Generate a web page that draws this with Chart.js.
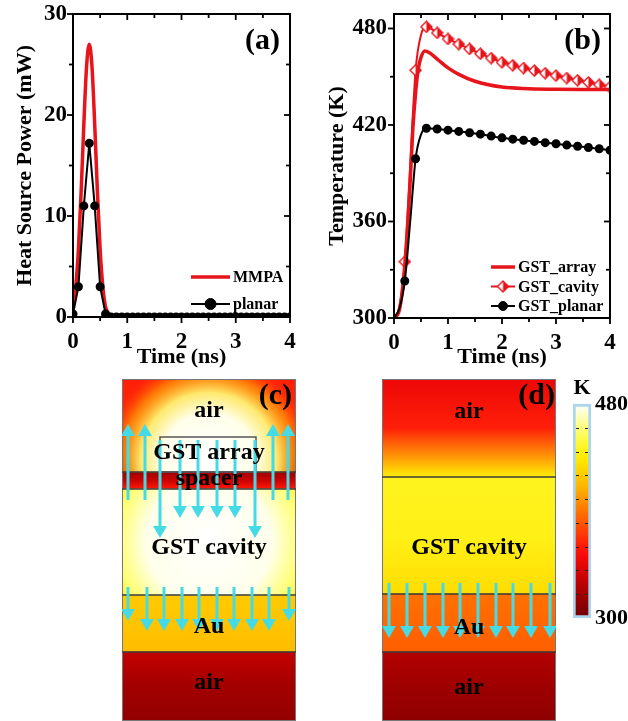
<!DOCTYPE html>
<html>
<head>
<meta charset="utf-8">
<script src="https://cdn.jsdelivr.net/npm/chart.js@4.4.1/dist/chart.umd.min.js"></script>
<style>
html, body { margin: 0; padding: 0; background: #fff; width: 628px; height: 721px; overflow: hidden; }
.box { position: absolute; }
</style>
</head>
<body>
<div class="box" style="left:0;top:0;width:314px;height:372px"><canvas id="chartA"></canvas></div>
<div class="box" style="left:314px;top:0;width:314px;height:372px"><canvas id="chartB"></canvas></div>
<div class="box" style="left:122px;top:379px;width:174px;height:342px"><canvas id="mapC"></canvas></div>
<div class="box" style="left:382px;top:379px;width:174px;height:342px"><canvas id="mapD"></canvas></div>
<div class="box" style="left:560px;top:380px;width:68px;height:250px"><canvas id="cbar"></canvas></div>
<script>
// (a) heat source power, mW
var tA = [0, 0.05, 0.1, 0.15, 0.2, 0.25, 0.3, 0.35, 0.4, 0.45, 0.5, 0.55, 0.6, 0.65, 0.7, 0.75, 0.8, 4];
var mmpaPower = [1.0, 3.0, 6.7, 12.4, 19.1, 24.8, 27.0, 24.8, 19.1, 12.4, 6.7, 3.0, 1.0, 0.4, 0.1, 0, 0, 0];
var tPlanarA = [0, 0.1, 0.2, 0.3, 0.4, 0.5, 0.6, 0.7, 0.8, 0.9, 1.0, 1.1, 1.2, 1.3, 1.4, 1.5, 1.6, 1.7, 1.8, 1.9, 2.0,
                2.1, 2.2, 2.3, 2.4, 2.5, 2.6, 2.7, 2.8, 2.9, 3.0, 3.1, 3.2, 3.3, 3.4, 3.5, 3.6, 3.7, 3.8, 3.9, 4.0];
var planarPower = [0.3, 3.0, 11.0, 17.2, 11.0, 3.0, 0.3, 0, 0, 0, 0, 0, 0, 0, 0, 0, 0, 0, 0, 0, 0,
                   0, 0, 0, 0, 0, 0, 0, 0, 0, 0, 0, 0, 0, 0, 0, 0, 0, 0, 0, 0];
var xTicks = [0, 1, 2, 3, 4];
var xMinor = [0.5, 1.5, 2.5, 3.5];
var yTicksA = [0, 10, 20, 30];
var yMinorA = [5, 15, 25];

// (b) temperature, K
var tArray = [0, 0.1, 0.2, 0.3, 0.35, 0.4, 0.45, 0.5, 0.57, 0.65, 0.8, 1.0, 1.2, 1.5, 2.0, 2.5, 3.0, 3.5, 4.0];
var arrayK = [300, 305, 333, 385, 418, 440, 455, 462, 466, 465, 461, 455.5, 451.5, 447.2, 443.6, 442.6, 442.2, 442.1, 442.1];
var tCavity = [0, 0.1, 0.2, 0.3, 0.4, 0.5, 0.6, 0.8, 1.0, 1.2, 1.4, 1.6, 1.8, 2.0, 2.2, 2.4, 2.6, 2.8, 3.0, 3.2, 3.4, 3.6, 3.8, 4.0];
var cavityK = [300, 307, 335, 395, 454, 476, 481, 477.3, 473.5, 470.3, 467.3, 464.3, 461.6, 459, 457.1, 455.4,
               453.8, 452.2, 450.7, 449.2, 447.8, 446.5, 445, 443.6];
var tPlanarB = [0, 0.1, 0.2, 0.3, 0.4, 0.5, 0.6, 0.8, 1.0, 1.2, 1.4, 1.6, 1.8, 2.0, 2.2, 2.4, 2.6, 2.8, 3.0, 3.2, 3.4, 3.6, 3.8, 4.0];
var planarK = [300, 306, 323, 360, 399, 414, 418, 417.5, 416.8, 416, 415.2, 414.3, 413.1, 412, 411.2, 410.5,
               409.8, 409, 408.3, 407.5, 406.8, 406, 405.2, 404.3];
var yTicksB = [300, 360, 420, 480];
var yMinorB = [330, 390, 450];

// (c) temperature field, layers bottom to top (K at bottom / middle / top of each layer)
var cLayers = ['air', 'Au', 'GST cavity', 'spacer', 'air'];
var cBounds = [0, 69, 126, 232, 249, 342];
var cTemp = [[314, 320, 332], [414, 417, 420], [446, 456, 448], [360, 335, 318], [335, 365, 362]];
var cGlowLayer = [4, 2];
var cGlowX = [0, 0];
var cGlowY = [260, 180];
var cGlowR = [105, 140];
var cGlowT = [480, 480];
var cArrayBox = [[-49, 249], [-49, 284], [47, 284], [47, 249]];
var cArrowX = [-81, -64, 64, 79, -49, -29, -11, 8, 26, 46, -81, -62, -45, -27, -10, 8, 25, 43, 60, 80];
var cArrowTail = [221, 221, 221, 221, 281, 281, 281, 281, 281, 281, 134, 134, 134, 134, 134, 134, 134, 134, 134, 134];
var cArrowHead = [289, 289, 289, 289, 191, 211, 211, 211, 211, 191, 108, 98, 98, 98, 98, 98, 98, 98, 98, 108];
var cLabels = ['air', 'GST array', 'spacer', 'GST cavity', 'Au', 'air'];
var cLabelY = [310, 268, 242, 173, 94, 38];

// (d) temperature field
var dLayers = ['air', 'Au', 'GST cavity', 'air'];
var dBounds = [0, 69, 127, 244, 342];
var dTemp = [[312, 318, 326], [383, 386, 389], [428, 440, 442], [436, 362, 348]];
var dArrowX = [-80, -62, -44, -26, -9, 9, 27, 44, 62, 81];
var dArrowTail = [138, 138, 138, 138, 138, 138, 138, 138, 138, 138];
var dArrowHead = [91, 91, 91, 91, 91, 91, 91, 91, 91, 91];
var dLabels = ['air', 'GST cavity', 'Au', 'air'];
var dLabelY = [309, 173, 93, 33];

// colour bar
var cbarRange = [300, 480];
var cbarMinor = [320, 340, 360, 380, 400, 420, 440, 460];

var heatStops = [[300, [110, 0, 0]], [330, [190, 0, 0]], [355, [255, 10, 10]], [385, [255, 100, 0]],
                 [410, [255, 180, 0]], [435, [255, 236, 0]], [455, [255, 255, 90]], [480, [255, 255, 255]]];

function heatColor(T, alpha) {
  if (alpha === undefined) alpha = 1;
  var c = heatStops[heatStops.length - 1][1];
  if (T <= heatStops[0][0]) c = heatStops[0][1];
  for (var i = 0; i < heatStops.length - 1; i++) {
    var a = heatStops[i], b = heatStops[i + 1];
    if (T >= a[0] && T <= b[0]) {
      var f = (T - a[0]) / (b[0] - a[0]);
      c = [0, 1, 2].map(function(k) { return Math.round(a[1][k] + f * (b[1][k] - a[1][k])); });
      break;
    }
  }
  return 'rgba(' + c[0] + ',' + c[1] + ',' + c[2] + ',' + alpha + ')';
}

Chart.defaults.font.family = "'Liberation Serif','Times New Roman',serif";
Chart.defaults.font.weight = 'bold';
Chart.defaults.color = '#000';
Chart.defaults.animation = false;

function pts(xs, ys) {
  return xs.map(function(x, i) { return { x: x, y: ys[i] }; });
}

// half-filled diamond marker for GST_cavity
var diamond = document.createElement('canvas');
diamond.width = 13; diamond.height = 13;
(function() {
  var g = diamond.getContext('2d');
  g.beginPath(); g.moveTo(6.5, 1); g.lineTo(12, 6.5); g.lineTo(6.5, 12); g.lineTo(1, 6.5); g.closePath();
  g.fillStyle = '#fff'; g.fill();
  g.beginPath(); g.moveTo(6.5, 1); g.lineTo(12, 6.5); g.lineTo(6.5, 12); g.closePath();
  g.fillStyle = '#e8141b'; g.fill();
  g.beginPath(); g.moveTo(6.5, 1); g.lineTo(12, 6.5); g.lineTo(6.5, 12); g.lineTo(1, 6.5); g.closePath();
  g.strokeStyle = '#e8141b'; g.lineWidth = 1.4; g.stroke();
})();

var decorPlugin = {
  id: 'decor',
  afterDatasetsDraw: function(chart, args, o) {
    var ctx = chart.ctx, a = chart.chartArea;
    ctx.save();
    function seg(x1, y1, x2, y2) { ctx.beginPath(); ctx.moveTo(x1, y1); ctx.lineTo(x2, y2); ctx.stroke(); }
    if (o.frame) {
      var xs = chart.scales.x, ys = chart.scales.y, f = o.frame;
      ctx.strokeStyle = '#000';
      ctx.lineWidth = 2;
      ctx.strokeRect(a.left, a.top, a.right - a.left, a.bottom - a.top);
      ctx.lineWidth = 1.8;
      [[f.xMajor, 6], [f.xMinor, 4]].forEach(function(p) {
        p[0].forEach(function(v) {
          var px = xs.getPixelForValue(v);
          seg(px, a.bottom, px, a.bottom + p[1]);
          seg(px, a.top, px, a.top + p[1]);
        });
      });
      [[f.yMajor, 6], [f.yMinor, 4]].forEach(function(p) {
        p[0].forEach(function(v) {
          var py = ys.getPixelForValue(v);
          seg(a.left - p[1], py, a.left, py);
          seg(a.right - p[1], py, a.right, py);
        });
      });
    }
    if (o.legend) {
      var L = o.legend;
      ctx.font = 'bold 16px "Liberation Serif"';
      ctx.textBaseline = 'middle';
      ctx.textAlign = 'left';
      chart.data.datasets.forEach(function(ds, i) {
        var y = L.y + i * L.dy;
        ctx.strokeStyle = ds.borderColor;
        ctx.lineWidth = ds.borderWidth;
        seg(L.x, y, L.x + L.len, y);
        if (ds.legendRadius) {
          ctx.fillStyle = ds.pointBackgroundColor;
          ctx.strokeStyle = ds.pointBorderColor;
          ctx.lineWidth = 1;
          Chart.helpers.drawPoint(ctx, { pointStyle: ds.pointStyle, radius: ds.legendRadius, rotation: 0, borderWidth: 1 },
            L.x + L.len / 2, y);
        }
        ctx.fillStyle = '#000';
        ctx.fillText(ds.label, L.x + L.len + 3, y + 1);
      });
    }
    if (o.labels) {
      var xa = chart.scales.xa, yy = chart.scales.y;
      ctx.font = 'bold 24px "Liberation Serif"';
      ctx.fillStyle = '#000';
      ctx.textAlign = 'center';
      ctx.textBaseline = 'middle';
      o.labels.text.forEach(function(t, i) {
        ctx.fillText(t, xa.getPixelForValue(0), yy.getPixelForValue(o.labels.y[i]));
      });
    }
    if (o.tag) {
      ctx.font = 'bold ' + (o.tag.size || 30) + 'px "Liberation Serif"';
      ctx.fillStyle = '#000';
      ctx.textAlign = o.tag.align || 'right';
      ctx.textBaseline = 'middle';
      ctx.fillText(o.tag.text, a.right + o.tag.dx, a.top + o.tag.dy);
    }
    if (o.cbar) {
      var yc = chart.scales.y;
      ctx.strokeStyle = '#222';
      ctx.lineWidth = 1;
      o.cbar.forEach(function(v) {
        var py = Math.round(yc.getPixelForValue(v)) + 0.5;
        seg(a.left + 3, py, a.left + 6, py);
        seg(a.right - 6, py, a.right - 3, py);
      });
    }
    ctx.restore();
  }
};

function lineScales(yMin, yMax, yTicks, yWidth, xHeight, yPad, titleY, titlePad) {
  return {
    x: {
      type: 'linear', min: 0, max: 4,
      afterBuildTicks: function(s) { s.ticks = xTicks.map(function(v) { return { value: v }; }); },
      afterFit: function(s) { s.height = xHeight; s.paddingLeft = 0; s.paddingRight = 0; },
      grid: { display: false, drawTicks: false }, border: { display: false },
      ticks: { font: { size: 23, weight: 'bold' }, padding: 11, maxRotation: 0 },
      title: { display: true, text: 'Time (ns)', font: { size: 22, weight: 'bold' }, padding: { top: 0, bottom: 1 } }
    },
    y: {
      type: 'linear', min: yMin, max: yMax,
      afterBuildTicks: function(s) { s.ticks = yTicks.map(function(v) { return { value: v }; }); },
      afterFit: function(s) { s.width = yWidth; s.paddingTop = 0; s.paddingBottom = 0; },
      grid: { display: false, drawTicks: false }, border: { display: false },
      ticks: { font: { size: 23, weight: 'bold' }, padding: yPad },
      title: { display: true, text: titleY, font: { size: 22, weight: 'bold' }, padding: { top: titlePad, bottom: 0 } }
    }
  };
}

new Chart(document.getElementById('chartA'), {
  type: 'line',
  data: {
    datasets: [
      { label: 'MMPA', data: pts(tA, mmpaPower), borderColor: '#e8141b', borderWidth: 3.5, pointRadius: 0,
        cubicInterpolationMode: 'monotone', order: 1 },
      { label: 'planar', data: pts(tPlanarA, planarPower), borderColor: '#000', borderWidth: 2,
        pointRadius: 3.5, pointStyle: 'circle', pointBackgroundColor: '#000', pointBorderColor: '#000',
        legendRadius: 5.5, order: 0 }
    ]
  },
  options: {
    responsive: true, maintainAspectRatio: false,
    layout: { autoPadding: false, padding: { top: 14, right: 24, left: 0, bottom: 0 } },
    scales: lineScales(0, 30, yTicksA, 73, 55, 6, 'Heat Source Power (mW)', 12),
    plugins: {
      legend: { display: false }, tooltip: { enabled: false },
      decor: {
        frame: { xMajor: xTicks, xMinor: xMinor, yMajor: yTicksA, yMinor: yMinorA },
        legend: { x: 191, len: 39, y: 277, dy: 27 },
        tag: { text: '(a)', dx: -10, dy: 27 }
      }
    }
  },
  plugins: [decorPlugin]
});

function markEvery(t) { return Math.abs(t * 5 - Math.round(t * 5)) < 1e-6 && t > 0; }

new Chart(document.getElementById('chartB'), {
  type: 'line',
  data: {
    datasets: [
      { label: 'GST_array', data: pts(tArray, arrayK), borderColor: '#e8141b', borderWidth: 3.5, pointRadius: 0,
        cubicInterpolationMode: 'monotone', order: 1 },
      { label: 'GST_cavity', data: pts(tCavity, cavityK), borderColor: '#e8141b', borderWidth: 2,
        pointStyle: diamond, pointBackgroundColor: '#fff', pointBorderColor: '#e8141b',
        pointRadius: tCavity.map(function(t) { return markEvery(t) ? 6 : 0; }),
        cubicInterpolationMode: 'monotone', legendRadius: 6, order: 2 },
      { label: 'GST_planar', data: pts(tPlanarB, planarK), borderColor: '#000', borderWidth: 2,
        pointStyle: 'circle', pointBackgroundColor: '#000', pointBorderColor: '#000',
        pointRadius: tPlanarB.map(function(t) { return markEvery(t) ? 3.5 : 0; }),
        cubicInterpolationMode: 'monotone', legendRadius: 4.5, order: 0 }
    ]
  },
  options: {
    responsive: true, maintainAspectRatio: false,
    layout: { autoPadding: false, padding: { top: 14, right: 18, left: 0, bottom: 0 } },
    scales: lineScales(300, 489, yTicksB, 80, 54, 7, 'Temperature (K)', 10),
    plugins: {
      legend: { display: false }, tooltip: { enabled: false },
      decor: {
        frame: { xMajor: xTicks, xMinor: xMinor, yMajor: yTicksB, yMinor: yMinorB },
        legend: { x: 177, len: 24, y: 267, dy: 19.5 },
        tag: { text: '(b)', dx: -9, dy: 27 }
      }
    }
  },
  plugins: [decorPlugin]
});

function layerFill(bounds, temps, i) {
  return function(c) {
    var chart = c.chart, y = chart.scales.y;
    if (!chart.chartArea || !y) return 'transparent';
    var yb = y.getPixelForValue(bounds[i]), yt = y.getPixelForValue(bounds[i + 1]);
    var g = chart.ctx.createLinearGradient(0, yb, 0, yt);
    g.addColorStop(0, heatColor(temps[i][0]));
    g.addColorStop(0.5, heatColor(temps[i][1]));
    g.addColorStop(1, heatColor(temps[i][2]));
    return g;
  };
}

function glowFill(k) {
  return function(c) {
    var chart = c.chart, xa = chart.scales.xa, y = chart.scales.y;
    if (!chart.chartArea || !xa) return 'transparent';
    var cx = xa.getPixelForValue(cGlowX[k]), cy = y.getPixelForValue(cGlowY[k]);
    var r = Math.abs(xa.getPixelForValue(cGlowR[k]) - xa.getPixelForValue(0));
    var T = cGlowT[k];
    var g = chart.ctx.createRadialGradient(cx, cy, 0, cx, cy, r);
    g.addColorStop(0, heatColor(T, 1));
    g.addColorStop(0.45, heatColor(T - 3, 1));
    g.addColorStop(0.65, heatColor(T - 20, 0.9));
    g.addColorStop(0.84, heatColor(T - 55, 0.45));
    g.addColorStop(1, heatColor(T - 100, 0));
    return g;
  };
}

function mapDatasets(bounds, temps, glows, arrowX, arrowTail, arrowHead, box) {
  var ds = [];
  for (var i = 0; i < bounds.length - 1; i++) {
    ds.push({ type: 'bar', data: [[bounds[i], bounds[i + 1]]], backgroundColor: layerFill(bounds, temps, i),
              borderWidth: 0, grouped: false, barPercentage: 1, categoryPercentage: 1, order: 6 });
  }
  glows.forEach(function(k) {
    var li = cGlowLayer[k];
    ds.push({ type: 'bar', data: [[bounds[li], bounds[li + 1]]], backgroundColor: glowFill(k),
              borderWidth: 0, grouped: false, barPercentage: 1, categoryPercentage: 1, order: 5 });
  });
  for (var j = 1; j < bounds.length - 1; j++) {
    ds.push({ type: 'line', xAxisID: 'xa', data: [{ x: -87, y: bounds[j] }, { x: 87, y: bounds[j] }],
              borderColor: '#3a3a3a', borderWidth: 1.3, pointRadius: 0, order: 3 });
  }
  ds.push({ type: 'line', xAxisID: 'xa',
            data: [{ x: -87, y: 0 }, { x: -87, y: 342 }, { x: 87, y: 342 }, { x: 87, y: 0 }, { x: -87, y: 0 }],
            borderColor: '#777', borderWidth: 2, pointRadius: 0, order: 3 });
  if (box) {
    ds.push({ type: 'line', xAxisID: 'xa', data: box.concat([box[0]]).map(function(p) { return { x: p[0], y: p[1] }; }),
              borderColor: '#555', borderWidth: 1.5, pointRadius: 0, order: 2 });
  }
  arrowX.forEach(function(x, i) {
    var up = arrowHead[i] > arrowTail[i];
    ds.push({ type: 'line', xAxisID: 'xa', data: [{ x: x, y: arrowTail[i] }, { x: x, y: arrowHead[i] }],
              borderColor: '#45dbe6', backgroundColor: '#45dbe6', borderWidth: 3,
              pointRadius: [0, 5], pointHoverRadius: 0, pointStyle: 'triangle', rotation: up ? 0 : 180,
              pointBackgroundColor: '#45dbe6', pointBorderColor: '#45dbe6', order: 1 });
  });
  return ds;
}

function mapOptions(labels, labelY, tag) {
  return {
    responsive: true, maintainAspectRatio: false,
    layout: { autoPadding: false, padding: 0 },
    scales: {
      x: { type: 'category', display: false },
      xa: { type: 'linear', axis: 'x', position: 'bottom', min: -87, max: 87, offset: false, display: false },
      y: { type: 'linear', min: 0, max: 342, display: false }
    },
    plugins: {
      legend: { display: false }, tooltip: { enabled: false },
      decor: { labels: { text: labels, y: labelY }, tag: tag }
    }
  };
}

new Chart(document.getElementById('mapC'), {
  type: 'bar',
  data: { labels: ['c'], datasets: mapDatasets(cBounds, cTemp, [0, 1], cArrowX, cArrowTail, cArrowHead, cArrayBox) },
  options: mapOptions(cLabels, cLabelY, { text: '(c)', dx: -4, dy: 17 }),
  plugins: [decorPlugin]
});

new Chart(document.getElementById('mapD'), {
  type: 'bar',
  data: { labels: ['d'], datasets: mapDatasets(dBounds, dTemp, [], dArrowX, dArrowTail, dArrowHead, null) },
  options: mapOptions(dLabels, dLabelY, { text: '(d)', dx: -1, dy: 17 }),
  plugins: [decorPlugin]
});

new Chart(document.getElementById('cbar'), {
  type: 'bar',
  data: {
    labels: ['K'],
    datasets: [{
      data: [cbarRange],
      backgroundColor: function(c) {
        var chart = c.chart, y = chart.scales.y;
        if (!chart.chartArea || !y) return 'transparent';
        var g = chart.ctx.createLinearGradient(0, y.getPixelForValue(cbarRange[0]), 0, y.getPixelForValue(cbarRange[1]));
        for (var T = cbarRange[0]; T <= cbarRange[1]; T += 10) {
          g.addColorStop((T - cbarRange[0]) / (cbarRange[1] - cbarRange[0]), heatColor(T));
        }
        return g;
      },
      borderColor: '#a9d6ee', borderWidth: 3, borderSkipped: false,
      barPercentage: 1, categoryPercentage: 1
    }]
  },
  options: {
    responsive: true, maintainAspectRatio: false,
    layout: { autoPadding: false, padding: { left: 13, top: 24, bottom: 12, right: 0 } },
    scales: {
      x: { display: false },
      y: {
        position: 'right', min: cbarRange[0], max: cbarRange[1],
        afterBuildTicks: function(s) { s.ticks = cbarRange.map(function(v) { return { value: v }; }); },
        afterFit: function(s) { s.width = 37; s.paddingTop = 0; s.paddingBottom = 0; },
        grid: { display: false, drawTicks: false }, border: { display: false },
        ticks: { font: { size: 22, weight: 'bold' }, padding: 4 }
      }
    },
    plugins: {
      legend: { display: false }, tooltip: { enabled: false },
      decor: { cbar: cbarMinor, tag: { text: 'K', dx: -9, dy: -16, size: 22, align: 'center' } }
    }
  },
  plugins: [decorPlugin]
});
</script>
</body>
</html>
